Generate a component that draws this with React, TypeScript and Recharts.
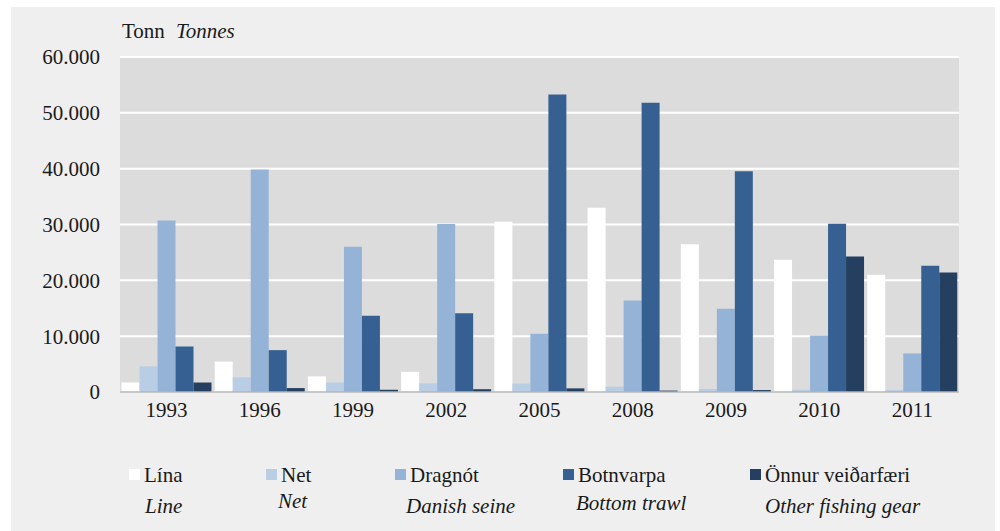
import React from 'react';
import { BarChart, Bar, XAxis, YAxis, CartesianGrid } from 'recharts';

// Afli eftir veiðarfærum, tonn
const years = ['1993', '1996', '1999', '2002', '2005', '2008', '2009', '2010', '2011'];
const lina = [1700, 5450, 2800, 3600, 30500, 33000, 26450, 23700, 21000];
const net = [4600, 2600, 1700, 1550, 1500, 950, 550, 400, 350];
const dragnot = [30700, 39850, 26000, 30100, 10450, 16400, 14900, 10100, 6900];
const botnvarpa = [8150, 7500, 13650, 14100, 53300, 51800, 39550, 30150, 22600];
const onnur = [1700, 700, 400, 500, 650, 250, 350, 24250, 21400];
const yTicks = [0, 10000, 20000, 30000, 40000, 50000, 60000];

const series = [
  { key: 'lina', is: 'Lína', en: 'Line', color: '#ffffff', values: lina },
  { key: 'net', is: 'Net', en: 'Net', color: '#b9cde5', values: net },
  { key: 'dragnot', is: 'Dragnót', en: 'Danish seine', color: '#95b3d7', values: dragnot },
  { key: 'botnvarpa', is: 'Botnvarpa', en: 'Bottom trawl', color: '#366092', values: botnvarpa },
  { key: 'onnur', is: 'Önnur veiðarfæri', en: 'Other fishing gear', color: '#243f60', values: onnur },
];

// legend placement (square x, english label x, english label centre y)
const legendLayout = [
  { x: 129, enX: 145, enY: 507 },
  { x: 266, enX: 278, enY: 502 },
  { x: 395, enX: 406, enY: 507 },
  { x: 563, enX: 576, enY: 504 },
  { x: 750, enX: 765, enY: 507 },
];

const data = years.map((year, i) => {
  const row: Record<string, string | number> = { year };
  series.forEach((s) => { row[s.key] = s.values[i]; });
  return row;
});

const FONT = '"Liberation Serif", "Times New Roman", serif';
const TEXT = '#1a1a1a';
const FS = 21;

function formatThousands(v: number): string {
  return String(v).replace(/\B(?=(\d{3})+(?!\d))/g, '.');
}

export default function App() {
  return (
    <div style={{
      position: 'absolute', left: 0, top: 0, width: 1000, height: 531,
      background: '#ffffff', fontFamily: FONT, color: TEXT, overflow: 'hidden',
    }}>
      <div style={{ position: 'absolute', left: 11, top: 7, width: 984, height: 524, background: '#efefef' }} />

      <div style={{ position: 'absolute', left: 122, top: 20, fontSize: FS, lineHeight: '22px', whiteSpace: 'nowrap' }}>
        Tonn<span style={{ fontStyle: 'italic', marginLeft: 11 }}>Tonnes</span>
      </div>

      <div style={{ position: 'absolute', left: 0, top: 0 }}>
        <BarChart
          width={1000}
          height={531}
          data={data}
          margin={{ top: 57, right: 41, left: 20, bottom: 109 }}
          barCategoryGap="1.6%"
          barGap={0}
        >
          <CartesianGrid
            vertical={false}
            fill="#dcdcdc"
            fillOpacity={1}
            stroke="#ffffff"
            strokeWidth={2}
          />
          <XAxis
            dataKey="year"
            height={30}
            tickLine={false}
            tickSize={0}
            tickMargin={10}
            axisLine={{ stroke: '#b4b4b4', strokeWidth: 1.5 }}
            tick={{ fontSize: FS, fill: TEXT, fontFamily: FONT }}
          />
          <YAxis
            domain={[0, 60000]}
            ticks={yTicks}
            width={100}
            axisLine={false}
            tickLine={false}
            tickMargin={14}
            tickFormatter={formatThousands}
            tick={{ fontSize: FS, fill: TEXT, fontFamily: FONT }}
          />
          {series.map((s) => (
            <Bar
              key={s.key}
              dataKey={s.key}
              fill={s.color}
              isAnimationActive={false}
            />
          ))}
        </BarChart>
      </div>

      {series.map((s, i) => {
        const l = legendLayout[i];
        return (
          <React.Fragment key={s.key}>
            <div style={{ position: 'absolute', left: l.x, top: 469, width: 11, height: 11, background: s.color }} />
            <div style={{ position: 'absolute', left: l.x + 15, top: 464, fontSize: FS, lineHeight: '22px', whiteSpace: 'nowrap' }}>
              {s.is}
            </div>
            <div style={{ position: 'absolute', left: l.enX, top: l.enY - 12, fontSize: FS, lineHeight: '22px', fontStyle: 'italic', whiteSpace: 'nowrap' }}>
              {s.en}
            </div>
          </React.Fragment>
        );
      })}
    </div>
  );
}
